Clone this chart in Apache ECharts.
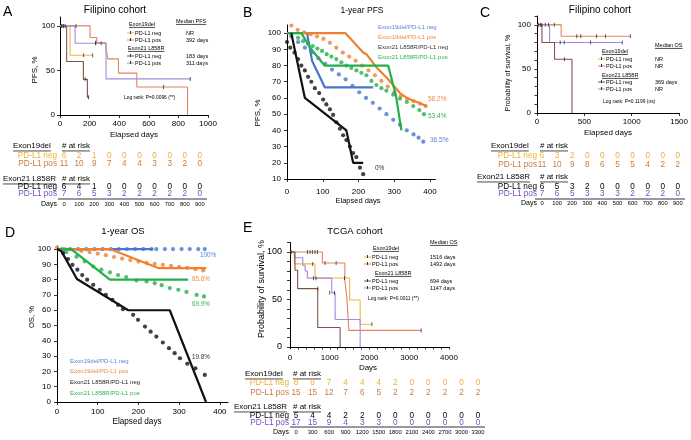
<!DOCTYPE html>
<html><head><meta charset="utf-8">
<script src="https://cdn.jsdelivr.net/npm/echarts@6/dist/echarts.min.js"></script>
<style>html,body{margin:0;padding:0;background:#fff}#c{width:691px;height:440px}</style>
</head><body><div id="c"></div>
<script>
const FONT = '"Liberation Sans", Arial, sans-serif';

// ---------------- Panel A: Filipino cohort, PFS ----------------
const aKM19neg = [[0,100],[68,67],[221,67]];
const aKM19pos = [[0,100],[203,87],[248,81],[310,75],[323,63],[395,47],[519,31.5],[862,0]];
const aKM21neg = [[0,100],[45,60],[158,40],[185,20],[198,20]];
const aKM21pos = [[0,100],[102,80.5],[311,40.5],[880,40.5]];
const aCens19neg = [[10,100],[25,100],[160,67],[221,67]];
const aCens19pos = [[20,100],[35,100],[241,81],[700,31.5]];
const aCens21neg = [[170,40],[192,20]];
const aCens21pos = [[108,100],[241,80.5],[278,80.5],[880,40.5]];
const aRiskDays = [0,100,200,300,400,500,600,700,800,900];
const aRisk19neg = [6,2,1,0,0,0,0,0,0,0];
const aRisk19pos = [11,10,9,7,4,4,3,3,2,0];
const aRisk21neg = [6,4,1,0,0,0,0,0,0,0];
const aRisk21pos = [7,6,5,3,2,2,2,2,2,0];
const aXTicks = [0,200,400,600,800,1000];
const aYTicks = [0,50,100];

// ---------------- Panel B: 1-year PFS ----------------
const bSolid19neg = [[56,100],[70,83],[106,66.5],[241,66.5]];
const bSolid19pos = [[0,100],[163,100],[213,88],[222,87],[250,79],[279,72.5],[316,63],[335,60],[363,57.5],[390,55]];
const bSolid21neg = [[12,100],[50,60],[166,40],[185,20],[213,20]];
const bSolid21pos = [[0,100],[40,100],[68,90],[105,80],[283,80],[305,61],[320,40]];
const bDot19neg = [[12,98],[31,94.5],[50,91],[69,88],[88,84.5],[107,81],[126,77.5],[145,74.5],[164,71.5],[183,67.5],[202,63.5],[221,60],[240,57],[259,53.5],[278,50],[297,46.5],[316,43.5],[335,40],[354,37.5],[368,35.5],[381,33]];
const bDot19pos = [[12,104.7],[30,102],[48,100.5],[66,99.3],[84,98],[102,96.5],[120,94],[138,91],[156,88],[174,85.5],[192,83],[210,80],[228,77],[246,74],[264,70.5],[282,67],[300,63.5],[318,61],[336,59.5],[354,58],[372,56.5],[388,55]];
const bDot21neg = [[0,94.5],[9,91],[21,88],[31,84],[40,80],[50,77],[59,73],[68,70],[78,66],[90,63],[101,59],[110,56],[120,53],[129,49.5],[138,45],[148,41],[157,37],[166,34],[176,30],[185,26],[194,23.5],[204,17],[213,13]];
const bDot21pos = [[31,97],[45,95],[59,93.5],[72,92],[85,90.5],[98,89],[111,87],[124,85.5],[138,84],[152,82],[166,80],[180,78.5],[194,77],[208,75.5],[222,74],[236,70.5],[250,68],[264,66],[278,64.5],[297,62],[316,59.5],[335,57.5],[353,55],[370,52.5],[383,50]];
const bXTicks = [0,100,200,300,400];
const bYTicks = [10,20,30,40,50,60,70,80,90,100];

// ---------------- Panel C: Filipino cohort, OS ----------------
const cKM19neg = [[0,100],[260,100]];
const cKM19pos = [[0,100],[255,87],[985,87]];
const cKM21neg = [[0,100],[52,80],[185,61],[369,0]];
const cKM21pos = [[0,100],[133,80],[900,80]];
const cCens19neg = [[17,100],[35,100],[52,100]];
const cCens19pos = [[87,100],[122,100],[182,100],[420,87],[462,87],[629,87],[723,87],[985,87]];
const cCens21neg = [[290,61]];
const cCens21pos = [[245,80],[287,80],[566,80],[900,80]];
const cRiskDays = [0,100,200,300,400,500,600,700,800,900];
const cRisk19neg = [6,3,2,0,0,0,0,0,0,0];
const cRisk19pos = [11,10,9,8,6,5,5,4,2,2];
const cRisk21neg = [6,5,3,2,0,0,0,0,0,0];
const cRisk21pos = [7,6,5,3,3,3,2,2,2,0];
const cXTicks = [0,500,1000,1500];
const cYLabels = [0,50,100];

// ---------------- Panel D: 1-year OS ----------------
const dSolid19neg = [[0,100],[236,100]];
const dSolid19pos = [[0,100],[130,100],[250,87.5],[367,87.5]];
const dSolid21neg = [[0,100],[11,98.5],[49,80.4],[175,60],[277,60],[366,0]];
const dSolid21pos = [[0,100],[35,100],[130,80],[322,80]];
const dDot19neg = [[12,100],[32,100],[52,100],[72,100],[92,100],[112,100],[132,100],[152,100],[172,100],[192,100],[212,100],[232,100],[244,100],[265,100],[285,100],[306,100],[326,100],[347,100],[363,100]];
const dDot19pos = [[0,101],[19,100],[40,99.4],[60,98.8],[80,98],[100,97],[120,96],[140,94.8],[160,93.8],[180,92.8],[200,91.8],[220,91],[240,90.3],[260,89.7],[280,89],[300,88.3],[320,87.7],[340,86.8],[359,86]];
const dDot21neg = [[15,97.4],[27,93.5],[38,89.7],[50,86.5],[62,83],[74,80],[89,76.6],[105,73.4],[120,70],[136,66.8],[150,63.5],[162,60.7],[187,57],[199,53.7],[216,49.3],[230,46],[244,42.8],[260,38.9],[275,35.2],[289,31.9],[302,28.6],[320,25],[340,22],[363,17.7]];
const dDot21pos = [[23,98],[48,95],[68,92],[89,88.6],[109,86.5],[130,84.7],[150,83],[170,81.7],[195,79.5],[220,78.8],[240,77.7],[257,76.4],[277,74.5],[298,73.4],[318,72],[343,70],[361,69]];
const dXTicks = [0,100,200,300,400];
const dYTicks = [0,10,20,30,40,50,60,70,80,90,100];

// ---------------- Panel E: TCGA cohort ----------------
const eKM19neg = [[0,100],[110,87.5],[630,72.7],[1500,49.5],[1765,24],[2060,24]];
const eKM19pos = [[0,100],[815,88.5],[1380,70],[1430,52],[1480,17.5],[3300,17.5]];
const eKM21neg = [[0,100],[126,80.8],[193,61.5],[697,20.6],[1260,0]];
const eKM21pos = [[0,100],[110,94],[320,86],[380,80],[437,72.5],[1050,57],[1135,29],[1765,0]];
const eCens19neg = [[15,100],[30,100],[570,87.5],[1370,72.7],[2060,24]];
const eCens19pos = [[437,100],[504,100],[563,100],[630,100],[689,100],[882,88.5],[1160,88.5],[3300,17.5]];
const eCens21neg = [[700,61.5]];
const eCens21pos = [[590,72.5],[655,72.5],[1000,57],[1118,57]];
const eRiskDays = [0,300,600,900,1200,1500,1800,2100,2400,2700,3000,3300];
const eRisk19neg = [8,8,7,4,4,4,2,0,0,0,0,0];
const eRisk19pos = [15,15,12,7,6,5,2,2,2,2,2,2];
const eRisk21neg = [5,4,4,2,2,0,0,0,0,0,0,0];
const eRisk21pos = [17,15,9,4,3,3,0,0,0,0,0,0];
const eXTicks = [0,1000,2000,3000,4000];
const eYLabels = [0,50,100];

// ---------------- colours ----------------
const KY = '#f5b444', KO = '#e4835f', KB = '#7d5446', KP = '#a48ad9';
const RY = '#f0b02c', RO = '#c77b3f', RP = '#7a4cc6';
const BL = '#4677cc', OR = '#f08030', BK = '#111111', GR = '#22b04b';

// ---------------- helpers ----------------
const mctx = document.createElement('canvas').getContext('2d');
function tw(s, size){ mctx.font = size + 'px ' + FONT; return mctx.measureText(s).width; }
const G = [];
function T(x, y, s, o = {}) {
  const size = o.size || 8, align = o.align || 'left', color = o.color || '#000';
  G.push({type:'text', x, y, rotation:o.rot || 0, silent:true, z:10,
    style:{text:String(s), fontSize:size, fontFamily:FONT, fill:color, align, verticalAlign:'middle'}});
  if (o.ul) {
    const w = tw(String(s), size);
    const x1 = align === 'right' ? x - w : align === 'center' ? x - w / 2 : x;
    const yy = y + size * 0.62;
    G.push({type:'line', silent:true, z:10, shape:{x1, y1:yy, x2:x1 + w, y2:yy}, style:{stroke:color, lineWidth:0.7}});
  }
}
function L(x1, y1, x2, y2, color = '#000', w = 1) {
  G.push({type:'line', silent:true, z:10, shape:{x1, y1, x2, y2}, style:{stroke:color, lineWidth:w}});
}
function marker(x, y, color) {
  L(x, y, x + 7, y, color, 1);
  G.push({type:'rect', silent:true, z:11, shape:{x:x + 3, y:y - 2, width:0.9, height:3}, style:{fill:'#222'}});
}
function riskRow(x0, dx, y, label, vals, color, labelRight) {
  T(labelRight, y, label, {size:8.2, color, align:'right'});
  vals.forEach((v, i) => T(x0 + dx * i, y, v, {size:8.2, color, align:'center'}));
}
function riskTable(c) {
  T(c.h1x, c.yh1, 'Exon19del', {size:8, ul:true});
  T(c.rx, c.yh1, '# at risk', {size:8, ul:true});
  riskRow(c.x0, c.dx, c.y1, 'PD-L1 neg', c.r1, RY, c.lr);
  riskRow(c.x0, c.dx, c.y2, 'PD-L1 pos', c.r2, RO, c.lr);
  T(c.h2x, c.yh2, 'Exon21 L858R', {size:8, ul:true});
  T(c.rx, c.yh2, '# at risk', {size:8, ul:true});
  riskRow(c.x0, c.dx, c.y3, 'PD-L1 neg', c.r3, '#000', c.lr);
  riskRow(c.x0, c.dx, c.y4, 'PD-L1 pos', c.r4, RP, c.lr);
  L(c.lx1, c.yl, c.lx2, c.yl, '#000', 0.8);
  T(c.lr, c.yd, 'Days', {size:7, align:'right'});
  c.days.forEach((d, i) => T(c.x0 + c.dx * i, c.yd, d, {size:5.8, align:'center'}));
}

const S = [];
function km(gi, data, color, cens) {
  S.push({type:'line', xAxisIndex:gi, yAxisIndex:gi, data, step:'end', symbol:'none', showSymbol:false,
    lineStyle:{color, width:1.1}, itemStyle:{color}, z:2, silent:true});
  S.push({type:'scatter', xAxisIndex:gi, yAxisIndex:gi, data:cens, symbol:'rect', symbolSize:[0.9, 4],
    itemStyle:{color:'#222'}, z:3, silent:true});
}
function solid(gi, data, color) {
  S.push({type:'line', xAxisIndex:gi, yAxisIndex:gi, data, symbol:'none', showSymbol:false,
    lineStyle:{color, width:2.2}, itemStyle:{color}, z:3, silent:true});
}
function dots(gi, data, color) {
  S.push({type:'scatter', xAxisIndex:gi, yAxisIndex:gi, data, symbol:'circle', symbolSize:4.2,
    itemStyle:{color}, z:2, silent:true});
}
function axis(gi, min, max, ticks, labels, o = {}) {
  return {type:'value', gridIndex:gi, min, max,
    axisLine:{show:true, onZero:false, lineStyle:{color:'#000', width:1}},
    axisTick:{show:true, length:o.tl || 3, inside:false, customValues:ticks, lineStyle:{color:'#000', width:0.8}},
    axisLabel:{customValues:labels, formatter:v => String(v), fontSize:o.fs || 8, color:'#000', fontFamily:FONT, margin:o.m || 5},
    splitLine:{show:false}};
}

// ---------------- grids & axes ----------------
const grid = [
  {left:60, top:17, width:148, height:98},
  {left:287, top:25, width:148.4, height:154},
  {left:537, top:16, width:143, height:97},
  {left:57, top:246, width:171, height:156},
  {left:290, top:242.5, width:159, height:104.5}
];
const tens110 = [0,10,20,30,40,50,60,70,80,90,100,110];
const eMinorX = []; for (let v = 0; v <= 4000; v += 200) eMinorX.push(v);
const xAxis = [
  axis(0, 0, 1000, aXTicks, aXTicks, {m:5}),
  axis(1, 0, 415, bXTicks, bXTicks, {m:9}),
  axis(2, 0, 1500, cXTicks, cXTicks, {m:5}),
  axis(3, 0, 420, dXTicks, dXTicks, {m:6}),
  axis(4, 0, 4000, eMinorX, eXTicks, {m:7, tl:2.5})
];
const yAxis = [
  axis(0, 0, 110, aYTicks, aYTicks, {m:5}),
  axis(1, 10, 105, bYTicks, bYTicks, {m:6}),
  axis(2, 0, 110, tens110, cYLabels, {m:6, tl:2.5}),
  axis(3, 0, 102, dYTicks, dYTicks, {m:6}),
  axis(4, 0, 110, tens110, eYLabels, {m:8, tl:3, fs:9})
];

// ---------------- series ----------------
km(0, aKM19neg, KY, aCens19neg); km(0, aKM19pos, KO, aCens19pos);
km(0, aKM21neg, KB, aCens21neg); km(0, aKM21pos, KP, aCens21pos);

dots(1, bDot19neg, BL); dots(1, bDot19pos, OR); dots(1, bDot21pos, GR); dots(1, bDot21neg, BK);
solid(1, bSolid19neg, BL); solid(1, bSolid19pos, OR); solid(1, bSolid21pos, GR); solid(1, bSolid21neg, BK);

km(2, cKM19neg, KY, cCens19neg); km(2, cKM19pos, KO, cCens19pos);
km(2, cKM21pos, KP, cCens21pos); km(2, cKM21neg, KB, cCens21neg);

dots(3, dDot19neg, BL); dots(3, dDot19pos, OR); dots(3, dDot21pos, GR); dots(3, dDot21neg, BK);
solid(3, dSolid19neg, BL); solid(3, dSolid19pos, OR); solid(3, dSolid21pos, GR); solid(3, dSolid21neg, BK);

km(4, eKM19neg, KY, eCens19neg); km(4, eKM19pos, KO, eCens19pos);
km(4, eKM21pos, KP, eCens21pos); km(4, eKM21neg, KB, eCens21neg);

// ---------------- texts: panel A ----------------
T(3, 12, 'A', {size:14});
T(115, 10, 'Filipino cohort', {size:10, align:'center'});
T(35, 70, 'PFS, %', {size:8, align:'center', rot:Math.PI / 2});
T(134, 135, 'Elapsed days', {size:8, align:'center'});
T(176, 21, 'Median PFS', {size:5.5, ul:true});
T(129, 24, 'Exon19del', {size:5.5, ul:true});
marker(127, 33, KY); T(135, 33, 'PD-L1 neg', {size:5.5}); T(186, 33, 'NR', {size:5.5});
marker(127, 40, KO); T(135, 40, 'PD-L1 pos', {size:5.5}); T(186, 40, '392 days', {size:5.5});
T(128, 48, 'Exon21 L858R', {size:5.5, ul:true});
marker(127, 56, KB); T(135, 56, 'PD-L1 neg', {size:5.5}); T(186, 56, '183 days', {size:5.5});
marker(127, 63, KP); T(135, 63, 'PD-L1 pos', {size:5.5}); T(186, 63, '311 days', {size:5.5});
T(124, 98, 'Log rank: P=0.0096 (**)', {size:4.9});
riskTable({h1x:13, h2x:3, rx:62, yh1:146, y1:156, y2:164, yh2:179, y3:187, y4:194, yl:199, yd:204,
  lr:57, x0:64, dx:15.1, lx1:58, lx2:207, r1:aRisk19neg, r2:aRisk19pos, r3:aRisk21neg, r4:aRisk21pos, days:aRiskDays});

// ---------------- texts: panel B ----------------
T(243, 13, 'B', {size:14});
T(362, 11, '1-year PFS', {size:8.5, align:'center'});
T(258, 113, 'PFS, %', {size:8, align:'center', rot:Math.PI / 2});
T(358, 201, 'Elapsed days', {size:7.5, align:'center'});
T(378, 27, 'Exon19del/PD-L1 neg', {size:6, color:'#5787d8'});
T(378, 37, 'Exon19del/PD-L1 pos', {size:6, color:'#f08a45'});
T(378, 47, 'Exon21 L858R/PD-L1 neg', {size:6, color:'#333'});
T(378, 57, 'Exon21 L858R/PD-L1 pos', {size:6, color:'#2fb455'});
T(428, 99, '58.2%', {size:6.5, color:'#f08a45'});
T(428, 116, '53.4%', {size:6.5, color:'#2fb455'});
T(430, 140, '36.5%', {size:6.5, color:'#5787d8'});
T(375, 168, '0%', {size:6.5, color:'#333'});

// ---------------- texts: panel C ----------------
T(480, 13, 'C', {size:14});
T(600, 10, 'Filipino cohort', {size:10, align:'center'});
T(508, 73, 'Probability of survival, %', {size:7, align:'center', rot:Math.PI / 2});
T(608, 133, 'Elapsed days', {size:8, align:'center'});
T(655, 45, 'Median OS', {size:5.5, ul:true});
T(602, 51, 'Exon19del', {size:5.5, ul:true});
marker(598, 59, KY); T(606, 59, 'PD-L1 neg', {size:5.5}); T(655, 59, 'NR', {size:5.5});
marker(598, 66, KO); T(606, 66, 'PD-L1 pos', {size:5.5}); T(655, 66, 'NR', {size:5.5});
T(602, 75, 'Exon21 L858R', {size:5.5, ul:true});
marker(598, 82, KB); T(606, 82, 'PD-L1 neg', {size:5.5}); T(655, 82, '369 days', {size:5.5});
marker(598, 89, KP); T(606, 89, 'PD-L1 pos', {size:5.5}); T(655, 89, 'NR', {size:5.5});
T(603, 102, 'Log rank: P=0.1199 (ns)', {size:4.9});
riskTable({h1x:491, h2x:477, rx:540, yh1:146, y1:156, y2:165, yh2:177, y3:187, y4:194, yl:199, yd:203,
  lr:537, x0:542, dx:15.1, lx1:535, lx2:685, r1:cRisk19neg, r2:cRisk19pos, r3:cRisk21neg, r4:cRisk21pos, days:cRiskDays});

// ---------------- texts: panel D ----------------
T(5, 233, 'D', {size:14});
T(123, 231, '1-year OS', {size:9.5, align:'center'});
T(32, 317, 'OS, %', {size:7.7, align:'center', rot:Math.PI / 2});
T(137, 422, 'Elapsed days', {size:8.2, align:'center'});
T(200, 255, '100%', {size:6.3, color:'#5787d8'});
T(192, 279, '85.6%', {size:6.3, color:'#f08a45'});
T(192, 304, '69.9%', {size:6.3, color:'#2fb455'});
T(192, 357, '19.8%', {size:6.3, color:'#333'});
T(70, 361, 'Exon19del/PD-L1 neg', {size:6, color:'#5787d8'});
T(70, 371, 'Exon19del/PD-L1 pos', {size:6, color:'#f08a45'});
T(70, 382, 'Exon21 L858R/PD-L1 neg', {size:6, color:'#222'});
T(70, 393, 'Exon21 L858R/PD-L1 pos', {size:6, color:'#2fb455'});

// ---------------- texts: panel E ----------------
T(243, 228, 'E', {size:14});
T(355, 231, 'TCGA cohort', {size:9.5, align:'center'});
T(262, 289, 'Probability of survival, %', {size:9, align:'center', rot:Math.PI / 2});
T(368, 368, 'Days', {size:8, align:'center'});
T(430, 242, 'Median OS', {size:5.5, ul:true});
T(373, 248, 'Exon19del', {size:5.5, ul:true});
marker(364, 257, KY); T(372, 257, 'PD-L1 neg', {size:5.5}); T(430, 257, '1516 days', {size:5.5});
marker(364, 264, KO); T(372, 264, 'PD-L1 pos', {size:5.5}); T(430, 264, '1492 days', {size:5.5});
T(375, 273, 'Exon21 L858R', {size:5.5, ul:true});
marker(364, 281, KB); T(372, 281, 'PD-L1 neg', {size:5.5}); T(430, 281, '694 days', {size:5.5});
marker(364, 288, KP); T(372, 288, 'PD-L1 pos', {size:5.5}); T(430, 288, '1147 days', {size:5.5});
T(368, 299, 'Log rank: P=0.0011 (**)', {size:4.9});
riskTable({h1x:245, h2x:234, rx:293, yh1:374, y1:383, y2:393, yh2:407, y3:416, y4:423, yl:427, yd:432,
  lr:289, x0:296, dx:16.55, lx1:290, lx2:485, r1:eRisk19neg, r2:eRisk19pos, r3:eRisk21neg, r4:eRisk21pos, days:eRiskDays});

const chart = echarts.init(document.getElementById('c'), null, {renderer:'canvas', width:691, height:440});
chart.setOption({animation:false, backgroundColor:'#fff', textStyle:{fontFamily:FONT},
  grid, xAxis, yAxis, series:S, graphic:G});
</script></body></html>
